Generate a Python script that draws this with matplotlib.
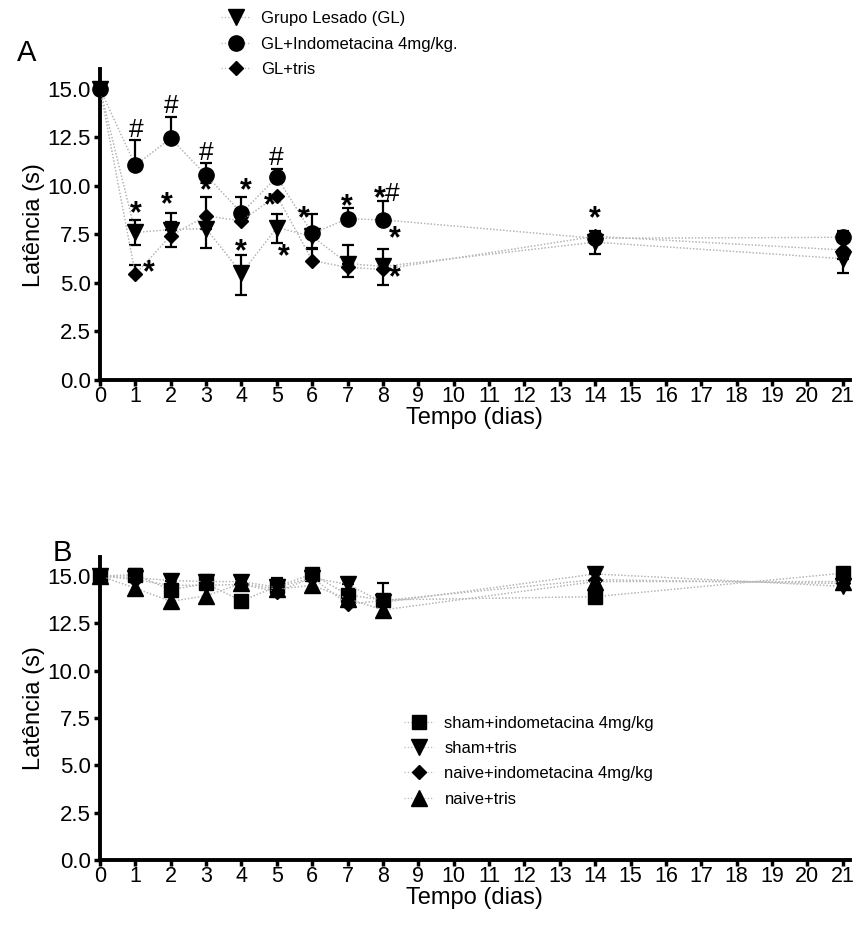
import matplotlib
matplotlib.use("Agg")
import matplotlib.pyplot as plt
import numpy as np

plt.rcParams["font.family"] = ["Liberation Sans", "DejaVu Sans"]

# dias de avaliação
dias = [0, 1, 2, 3, 4, 5, 6, 7, 8, 14, 21]

# Painel A - grupos lesados
gl = [15.0, 7.6, 7.75, 7.8, 5.5, 7.85, 7.4, 6.0, 5.85, 7.1, 6.25]
gl_inf = [0, 0.65, 0, 1.0, 1.1, 0.8, 0.6, 0, 0.95, 0.6, 0.75]
gl_sup = [0, 0.65, 0.85, 0, 0.95, 0.7, 0, 0.95, 0.9, 0, 0]

gl_indo = [15.0, 11.05, 12.45, 10.55, 8.6, 10.45, 7.55, 8.3, 8.25, 7.3, 7.35]
gl_indo_inf = [0, 0, 0, 0, 0, 0, 0, 0, 0, 0, 0]
gl_indo_sup = [0, 1.3, 1.1, 0.65, 0.85, 0.4, 1.0, 0.55, 0.95, 0.35, 0.35]

gl_tris = [15.0, 5.45, 7.44, 8.45, 8.2, 9.5, 6.15, 5.8, 5.7, 7.4, 6.7]
gl_tris_inf = [0, 0, 0.6, 0, 0, 0, 0, 0.5, 0, 0, 0]
gl_tris_sup = [0, 0.45, 0.7, 1.0, 0, 0, 0.6, 0, 0, 0, 0]

# marcas de significância (texto, dia, latência)
marcas = [
    ("#", 1.02, 12.9), ("*", 1.0, 8.75), ("*", 1.38, 5.7),
    ("#", 2.0, 14.1), ("*", 1.9, 9.2),
    ("#", 3.0, 11.7), ("*", 3.0, 9.95),
    ("*", 4.12, 9.96), ("*", 3.98, 6.79),
    ("#", 4.97, 11.43), ("*", 4.79, 9.14), ("*", 5.2, 6.53),
    ("*", 5.75, 8.5),
    ("*", 6.97, 9.1),
    ("*", 7.92, 9.54), ("#", 8.27, 9.6), ("*", 8.34, 7.47), ("*", 8.34, 5.46),
    ("*", 14.0, 8.5),
]

# Painel B - controles
sham_indo = [15.0, 15.05, 14.26, 14.6, 13.68, 14.44, 15.09, 14.0, 13.73, 13.9, 15.14]
sham_indo_sup = [0, 0.3, 0.7, 0.45, 0, 0.43, 0, 0.87, 0.87, 0, 0.2]
sham_tris = [15.0, 14.9, 14.75, 14.7, 14.7, 14.4, 14.9, 14.55, 13.6, 15.1, 14.45]
sham_tris_sup = [0, 0.2, 0.15, 0.2, 0.15, 0, 0.2, 0.3, 0, 0.1, 0]
naive_indo = [15.0, 14.8, 14.5, 14.5, 14.55, 14.17, 14.9, 13.5, 13.7, 14.8, 14.6]
naive_tris = [15.0, 14.35, 13.65, 13.95, 14.6, 14.3, 14.5, 13.8, 13.2, 14.7, 14.7]

yticks = [0.0, 2.5, 5.0, 7.5, 10.0, 12.5, 15.0]


def serie(ax, y, marker, ms, label, inf=None, sup=None):
    ax.plot(dias, y, color="#b8b8b8", lw=0.9, ls=":", zorder=1)
    if inf is not None or sup is not None:
        inf = inf if inf is not None else [0] * len(y)
        sup = sup if sup is not None else [0] * len(y)
        ax.errorbar(dias, y, yerr=[inf, sup], fmt="none", ecolor="black",
                    elinewidth=1.6, capsize=4.5, capthick=1.6, zorder=2)
    ax.plot(dias, y, ls=":", lw=0.9, color="#b8b8b8", marker=marker, ms=ms,
            mfc="black", mec="black", label=label, zorder=3)


def eixos(ax):
    ax.set_xlim(0, 21.2)
    ax.set_ylim(0, 16)
    ax.set_xticks(range(22))
    ax.set_yticks(yticks)
    ax.set_yticklabels(["%.1f" % v for v in yticks])
    for s in ["top", "right"]:
        ax.spines[s].set_visible(False)
    for s in ["left", "bottom"]:
        ax.spines[s].set_linewidth(2.8)
    ax.tick_params(direction="out", length=4, width=2.5, labelsize=16)
    ax.tick_params(axis="x", pad=0, labelsize=15.5)
    ax.tick_params(axis="y", pad=2.5)
    ax.set_xlabel("Tempo (dias)", fontsize=17, labelpad=0)
    ax.set_ylabel("Latência (s)", fontsize=17, labelpad=2)


fig = plt.figure(figsize=(8.54, 9.31), dpi=100)
axA = fig.add_axes([0.1171, 0.5918, 0.878, 0.3337])
axB = fig.add_axes([0.1171, 0.0763, 0.878, 0.3255])

serie(axA, gl, "v", 11, "Grupo Lesado (GL)", gl_inf, gl_sup)
serie(axA, gl_indo, "o", 11, "GL+Indometacina 4mg/kg.", gl_indo_inf, gl_indo_sup)
serie(axA, gl_tris, "D", 7.5, "GL+tris", gl_tris_inf, gl_tris_sup)
for txt, x, y in marcas:
    if txt == "*":
        axA.annotate(txt, (x, y), xytext=(0, -3), textcoords="offset points",
                     ha="center", va="center", fontsize=22, fontweight="bold")
    else:
        axA.annotate(txt, (x, y), xytext=(0, 0), textcoords="offset points",
                     ha="center", va="center", fontsize=19)
eixos(axA)
for ln in axA.lines:
    ln.set_clip_on(False)
axA.legend(loc="upper left", bbox_to_anchor=(0.241, 1.004), bbox_transform=fig.transFigure,
           frameon=False, fontsize=12, handlelength=1.8, handletextpad=0.6,
           labelspacing=0.62)

serie(axB, sham_indo, "s", 10.5, "sham+indometacina 4mg/kg", None, sham_indo_sup)
serie(axB, sham_tris, "v", 11, "sham+tris", None, sham_tris_sup)
serie(axB, naive_indo, "D", 7.5, "naive+indometacina 4mg/kg")
serie(axB, naive_tris, "^", 11, "naive+tris")
eixos(axB)
for ln in axB.lines:
    ln.set_clip_on(False)
axB.legend(loc="upper left", bbox_to_anchor=(0.456, 0.2475), bbox_transform=fig.transFigure,
           frameon=False, fontsize=12, handlelength=1.8, handletextpad=0.6,
           labelspacing=0.62)

fig.text(0.02, 0.934, "A", fontsize=21)
fig.text(0.062, 0.397, "B", fontsize=21)

fig.savefig("out.png", dpi=100)
